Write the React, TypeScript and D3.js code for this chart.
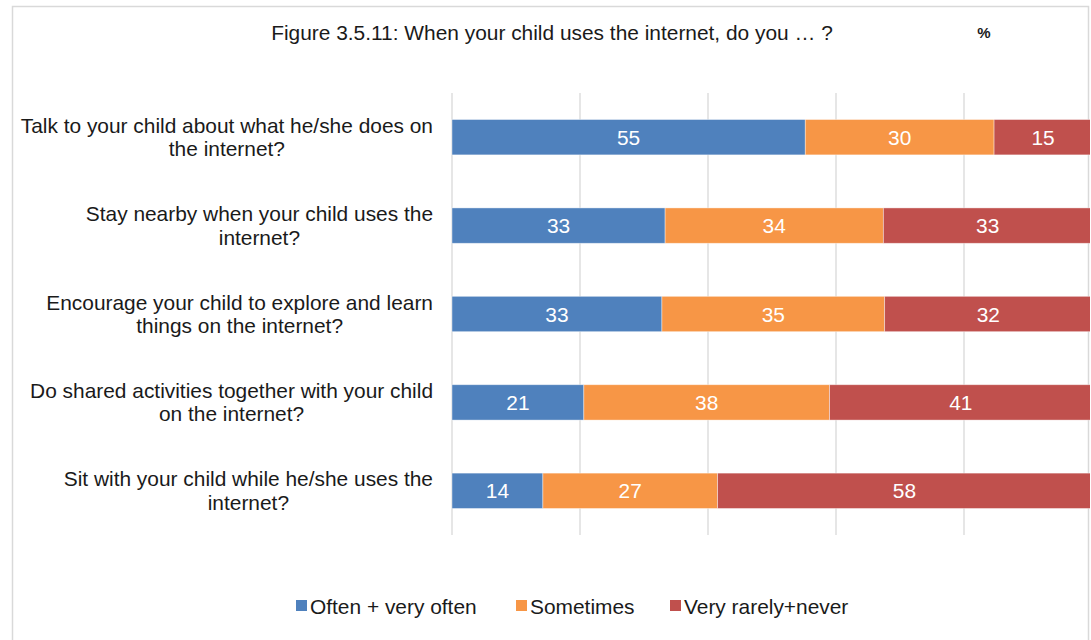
import React, { useMemo } from "react";
import * as d3 from "d3";

const categories: string[][] = [
  ["Talk to your child about what he/she does on", "the internet?"],
  ["Stay nearby when your child uses the", "internet?"],
  ["Encourage your child to explore and learn", "things on the internet?"],
  ["Do shared activities together with your child", "on the internet?"],
  ["Sit with your child while he/she uses the", "internet?"],
];
const seriesNames = ["Often + very often", "Sometimes", "Very rarely+never"];
const often = [55.2, 33.3, 32.8, 20.6, 14.2];
const sometimes = [29.5, 34.1, 34.8, 38.4, 27.3];
const rarely = [15.3, 32.6, 32.4, 41.0, 58.4];
const colors = ["#4f81bd", "#f79646", "#c0504d"];
const ticks = [0, 20, 40, 60, 80, 100];
const title = "Figure 3.5.11: When your child uses the internet, do you … ?";

const W = 1091;
const H = 640;
const FONT = "'Liberation Sans', Arial, sans-serif";
const LABEL_SIZE = 20.9;

function measure(text: string, size: number): number {
  if (typeof document === "undefined") return text.length * size * 0.5;
  const c = document.createElement("canvas");
  const ctx = c.getContext("2d")!;
  ctx.font = `${size}px ${FONT}`;
  return ctx.measureText(text).width;
}

export default function App() {
  const x = d3.scaleLinear().domain([0, 100]).range([452, 1092]);
  const y = d3
    .scaleBand<number>()
    .domain(d3.range(categories.length))
    .range([93, 535])
    .paddingInner(0.6)
    .paddingOuter(0.3);

  const series = [often, sometimes, rarely];
  const rows = categories.map((_, i) => ({
    i,
    often: often[i],
    sometimes: sometimes[i],
    rarely: rarely[i],
  }));
  const stack = d3.stack<any>().keys(["often", "sometimes", "rarely"])(rows);

  const labelRight = 433;
  const widths = useMemo(
    () => categories.map((lines) => Math.max(...lines.map((l) => measure(l, LABEL_SIZE)))),
    []
  );

  const legendX = [296, 516, 670];

  return (
    <svg width={W} height={H} style={{ position: "absolute", left: 0, top: 0, fontFamily: FONT }}>
      <rect x={0} y={0} width={W} height={H} fill="#ffffff" />
      <rect x={12.5} y={6.5} width={1076} height={H + 10} fill="#ffffff" stroke="#d9d9d9" strokeWidth={1.5} />
      <text x={552} y={40} textAnchor="middle" fontSize={20.9} fill="#1a1a1a">
        {title}
      </text>
      <text x={984} y={38} textAnchor="middle" fontSize={15} fontWeight="bold" fill="#1a1a1a">
        %
      </text>
      <clipPath id="plotclip">
        <rect x={0} y={0} width={1090} height={H} />
      </clipPath>
      <g clipPath="url(#plotclip)">
        {ticks.map((t) => (
          <line
            key={t}
            x1={x(t)}
            x2={x(t)}
            y1={y.range()[0]}
            y2={y.range()[1]}
            stroke="#d9d9d9"
            strokeWidth={1.3}
          />
        ))}
        {stack.map((s, si) =>
          s.map((d, i) => {
            const x0 = x(d[0]);
            const x1 = x(d[1]);
            const yy = y(i)!;
            return (
              <g key={`${si}-${i}`}>
                <rect
                  x={x0}
                  y={yy}
                  width={x1 - x0}
                  height={y.bandwidth()}
                  fill={colors[si]}
                  stroke="#ffffff"
                  strokeOpacity={0.5}
                  strokeWidth={0.8}
                />
                <text
                  x={(x0 + x1) / 2}
                  y={yy + y.bandwidth() / 2 + 7.5}
                  textAnchor="middle"
                  fontSize={20.9}
                  fill="#ffffff"
                >
                  {Math.round(series[si][i])}
                </text>
              </g>
            );
          })
        )}
      </g>
      {categories.map((lines, i) => {
        const cx = labelRight - widths[i] / 2;
        const cy = y(i)! + y.bandwidth() / 2;
        return (
          <text key={i} textAnchor="middle" fontSize={LABEL_SIZE} fill="#1a1a1a">
            {lines.map((l, li) => (
              <tspan key={li} x={cx} y={cy - 4.5 + li * 23.5}>
                {l}
              </tspan>
            ))}
          </text>
        );
      })}
      {seriesNames.map((n, i) => (
        <g key={n}>
          <rect x={legendX[i]} y={600} width={11} height={11} fill={colors[i]} />
          <text x={legendX[i] + 14} y={613.5} fontSize={20.9} fill="#1a1a1a">
            {n}
          </text>
        </g>
      ))}
    </svg>
  );
}
